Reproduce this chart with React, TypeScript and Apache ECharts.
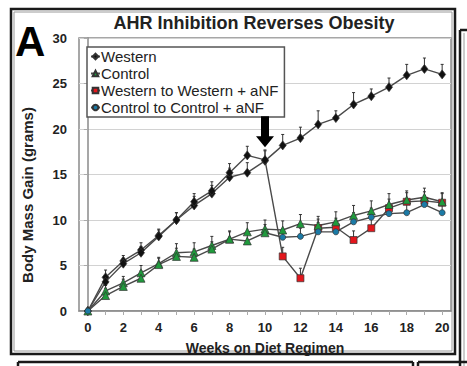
import React, { useEffect, useRef } from "react";
import * as echarts from "echarts";

const weeks = [0, 1, 2, 3, 4, 5, 6, 7, 8, 9, 10, 11, 12, 13, 14, 15, 16, 17, 18, 19, 20];
const xTickLabels = [0, 2, 4, 6, 8, 10, 12, 14, 16, 18, 20];

const western = [0, 3.7, 5.5, 6.7, 8.3, 10.0, 11.6, 12.9, 14.7, 15.2, 16.5, 18.2, 19.0, 20.5, 21.2, 22.7, 23.6, 24.6, 25.9, 26.6, 26.0];
const westernErr = [0, 0.8, 0.6, 0.8, 0.7, 0.8, 1.0, 0.9, 1.0, 1.1, 1.1, 1.2, 1.2, 1.5, 0.8, 1.3, 0.8, 1.0, 1.2, 1.2, 1.1];

const control = [0, 2.2, 3.1, 4.2, 5.2, 6.4, 6.5, 7.2, 7.9, 8.7, 9.0, 8.9, 9.6, 9.4, 9.8, 10.5, 11.0, 11.7, 12.2, 12.5, 12.0];
const controlErr = [0, 0.6, 0.7, 0.8, 0.7, 1.0, 1.0, 1.0, 0.9, 1.0, 1.0, 1.0, 1.0, 1.0, 1.1, 1.1, 1.1, 1.2, 1.0, 1.0, 1.0];

const westernToAnf = [0, 3.2, 5.2, 6.4, 8.2, 10.0, 12.0, 13.2, 15.2, 17.1, 16.6, 6.0, 3.6, 9.1, 9.2, 7.8, 9.1, 11.3, 12.0, 12.1, 11.9];
const westernToAnfErr = [0, 0.7, 0.6, 0.7, 0.7, 0.8, 0.9, 1.0, 1.0, 1.0, 1.1, 1.0, 1.1, 1.0, 1.0, 1.0, 1.0, 1.0, 1.0, 1.0, 1.0];

const controlToAnf = [0, 1.7, 2.7, 3.6, 5.1, 6.0, 5.9, 6.8, 7.9, 7.7, 8.6, 8.1, 8.2, 8.7, 8.7, 9.8, 10.3, 10.7, 10.8, 11.7, 10.8];
const controlToAnfErr = [0, 0.8, 0.8, 0.8, 0.7, 0.9, 0.9, 0.8, 0.8, 0.8, 0.9, 0.9, 0.9, 1.0, 1.0, 1.0, 1.0, 1.0, 1.0, 1.0, 1.0];

const treatmentWeek = 10;

const FONT = "'Liberation Sans', Arial, sans-serif";
const LINE = "#4a4a4a";
const BLACK = "#111111";
const GREEN = "#1f9a3c";
const RED = "#e3161c";
const BLUE = "#1b7aa6";

function errSeries(vals: number[], errs: number[]) {
  return {
    type: "custom",
    silent: true,
    z: 1,
    data: weeks.map((w, i) => [w, vals[i], errs[i]]),
    renderItem: (params: any, api: any) => {
      const x = api.value(0);
      const y = api.value(1);
      const e = api.value(2);
      if (!e) return null;
      const p0 = api.coord([x, y]);
      const p1 = api.coord([x, y + e]);
      return {
        type: "group",
        children: [
          { type: "line", shape: { x1: p0[0], y1: p0[1], x2: p1[0], y2: p1[1] }, style: { stroke: "#333", lineWidth: 1 } },
          { type: "line", shape: { x1: p1[0] - 1.5, y1: p1[1], x2: p1[0] + 1.5, y2: p1[1] }, style: { stroke: "#333", lineWidth: 1 } },
        ],
      };
    },
  };
}

export default function App() {
  const ref = useRef<HTMLDivElement>(null);
  useEffect(() => {
    if (!ref.current) return;
    const chart = echarts.init(ref.current, undefined, { renderer: "svg" });
    const lineStyle = { color: LINE, width: 1.4 };
    const border = { borderColor: "#333", borderWidth: 0.7 };
    chart.setOption({
      animation: false,
      backgroundColor: "#fff",
      grid: { left: 79, right: 16, top: 38, bottom: 55, show: true, borderColor: "#8a8a8a", borderWidth: 1.5, backgroundColor: "#fff" },
      legend: {
        data: ["Western", "Control", "Western to Western + aNF", "Control to Control + aNF"],
        orient: "vertical",
        left: 87,
        top: 47,
        itemGap: 2,
        itemWidth: 9,
        itemHeight: 7,
        padding: [2, 6, 2, 3],
        borderColor: "#555",
        borderWidth: 1.5,
        backgroundColor: "#fff",
        textStyle: { fontFamily: FONT, fontSize: 15, color: "#222", padding: [0, 0, 0, -4], lineHeight: 13.5 },
      },
      xAxis: {
        type: "value",
        min: -0.5,
        max: 20.5,
        axisLine: { show: true, lineStyle: { color: "#8a8a8a", width: 1.5 } },
        axisTick: { show: true, customValues: weeks, length: 4, lineStyle: { color: "#aaa" } },
        axisLabel: { customValues: xTickLabels, fontFamily: FONT, fontWeight: "bold", fontSize: 13, color: "#222", margin: 10 },
        splitLine: { show: false },
        name: "Weeks on Diet Regimen",
        nameLocation: "middle",
        nameGap: 30,
        nameTextStyle: { fontFamily: FONT, fontWeight: "bold", fontSize: 14, color: "#222" },
      },
      yAxis: {
        type: "value",
        min: 0,
        max: 30,
        interval: 5,
        axisLine: { show: true, lineStyle: { color: "#8a8a8a", width: 1.5 } },
        axisTick: { show: true, length: 4, lineStyle: { color: "#aaa" } },
        axisLabel: { fontFamily: FONT, fontWeight: "bold", fontSize: 13, color: "#222", margin: 12 },
        splitLine: { show: true, lineStyle: { color: "#d2d2d2", width: 1.2 } },
      },
      series: [
        errSeries(western, westernErr),
        errSeries(westernToAnf, westernToAnfErr),
        errSeries(control, controlErr),
        errSeries(controlToAnf, controlToAnfErr),
        {
          name: "Western",
          type: "line",
          z: 3,
          symbol: "diamond",
          symbolSize: [7, 9],
          lineStyle,
          itemStyle: { color: BLACK, ...border },
          data: weeks.map((w, i) => [w, western[i]]),
          markPoint: {
            silent: true,
            symbol: "path://M5,0 L13,0 L13,20 L18,20 L9,31 L0,20 L5,20 Z",
            symbolSize: [18, 31],
            itemStyle: { color: "#000" },
            label: { show: false },
            data: [{ coord: [treatmentWeek, 19.7] }],
          },
        },
        {
          name: "Western to Western + aNF",
          type: "line",
          z: 3,
          symbol: "rect",
          symbolSize: 7,
          lineStyle,
          itemStyle: { color: RED, ...border },
          data: weeks.map((w, i) =>
            i <= treatmentWeek
              ? { value: [w, westernToAnf[i]], symbol: "diamond", symbolSize: [7, 9], itemStyle: { color: BLACK, ...border } }
              : { value: [w, westernToAnf[i]] }
          ),
        },
        {
          name: "Control",
          type: "line",
          z: 3,
          symbol: "triangle",
          symbolSize: 8,
          lineStyle,
          itemStyle: { color: GREEN, ...border },
          data: weeks.map((w, i) => [w, control[i]]),
        },
        {
          name: "Control to Control + aNF",
          type: "line",
          z: 3,
          symbol: "circle",
          symbolSize: 6,
          lineStyle,
          itemStyle: { color: BLUE, ...border },
          data: weeks.map((w, i) =>
            i > 0 && i <= treatmentWeek
              ? { value: [w, controlToAnf[i]], symbol: "triangle", symbolSize: 8, itemStyle: { color: GREEN, ...border } }
              : { value: [w, controlToAnf[i]] }
          ),
        },
      ],
      graphic: [
        { type: "rect", silent: true, z: -10, shape: { x: 11, y: 9, width: 444, height: 345 }, style: { fill: "none", stroke: "#1a1a1a", lineWidth: 2.5 } },
        { type: "rect", silent: true, z: -10, shape: { x: 14, y: 12, width: 438, height: 339 }, style: { fill: "none", stroke: "#9a9a9a", lineWidth: 1 } },
        { type: "line", silent: true, shape: { x1: 460, y1: 30, x2: 460, y2: 366 }, style: { stroke: "#1a1a1a", lineWidth: 2.5 } },
        { type: "line", silent: true, shape: { x1: 460, y1: 30, x2: 467, y2: 30 }, style: { stroke: "#1a1a1a", lineWidth: 2.5 } },
        { type: "line", silent: true, shape: { x1: 464, y1: 33, x2: 464, y2: 366 }, style: { stroke: "#9a9a9a", lineWidth: 1 } },
        { type: "line", silent: true, shape: { x1: 18, y1: 362, x2: 413, y2: 362 }, style: { stroke: "#1a1a1a", lineWidth: 2.5 } },
        { type: "line", silent: true, shape: { x1: 18, y1: 362, x2: 18, y2: 366 }, style: { stroke: "#1a1a1a", lineWidth: 2.5 } },
        { type: "line", silent: true, shape: { x1: 413, y1: 362, x2: 413, y2: 366 }, style: { stroke: "#1a1a1a", lineWidth: 2.5 } },
        { type: "line", silent: true, shape: { x1: 418, y1: 362, x2: 467, y2: 362 }, style: { stroke: "#1a1a1a", lineWidth: 2.5 } },
        { type: "line", silent: true, shape: { x1: 418, y1: 362, x2: 418, y2: 366 }, style: { stroke: "#1a1a1a", lineWidth: 2.5 } },
        {
          type: "text",
          silent: true,
          x: 15,
          y: 20,
          style: { text: "A", font: `bold 42px ${FONT}`, fill: "#000", textVerticalAlign: "top" },
        },
        {
          type: "text",
          silent: true,
          x: 254,
          y: 23,
          style: { text: "AHR Inhibition Reverses Obesity", font: `bold 18px ${FONT}`, fill: "#222", textAlign: "center", textVerticalAlign: "middle" },
        },
        {
          type: "text",
          silent: true,
          x: 27,
          y: 195,
          rotation: Math.PI / 2,
          style: { text: "Body Mass Gain (grams)", font: `bold 15px ${FONT}`, fill: "#222", textAlign: "center", textVerticalAlign: "middle" },
        },
      ],
    });
    return () => chart.dispose();
  }, []);
  return <div ref={ref} style={{ width: 467, height: 366, position: "absolute", left: 0, top: 0 }} />;
}
